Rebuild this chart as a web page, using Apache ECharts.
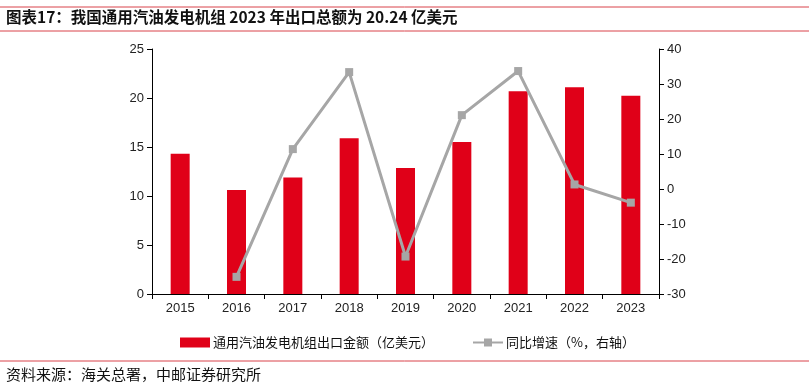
<!DOCTYPE html>
<html><head><meta charset="utf-8">
<script src="https://cdn.jsdelivr.net/npm/echarts@6/dist/echarts.min.js"></script>
<style>html,body{margin:0;padding:0;background:#fff}#c{width:809px;height:388px}</style>
</head><body><div id="c"></div>
<script>
const categories = ['2015','2016','2017','2018','2019','2020','2021','2022','2023'];
const exportValue = [14.3, 10.6, 11.9, 15.9, 12.85, 15.5, 20.7, 21.1, 20.24];
const yoyGrowth = [null, -25.1, 11.4, 33.4, -19.3, 21.1, 33.7, 1.3, -3.9];
const leftTicks = [0, 25, 5];
const rightTicks = [-30, 40, 10];
const titleText = '图表17：我国通用汽油发电机组 2023 年出口总额为 20.24 亿美元';
const sourceText = '资料来源：海关总署，中邮证券研究所';
const barName = '通用汽油发电机组出口金额（亿美元）';
const lineName = '同比增速（%，右轴）';

const chart = echarts.init(document.getElementById('c'), null, {renderer:'canvas'});
const axisTxt = {color:'#222', fontSize:13, fontFamily:'Liberation Sans, Arial, sans-serif'};
chart.setOption({
  animation:false,
  graphic:[
    {type:'line', shape:{x1:0,y1:7,x2:809,y2:7}, style:{stroke:'#d9434b',lineWidth:1}},
    {type:'text', left:6, top:9, style:{text:titleText, font:'bold 15.5px "Noto Sans CJK SC"', fill:'#111'}},
    {type:'line', shape:{x1:0,y1:31,x2:809,y2:31}, style:{stroke:'#d9434b',lineWidth:1}},
    {type:'line', shape:{x1:0,y1:361,x2:809,y2:361}, style:{stroke:'#d9434b',lineWidth:1}},
    {type:'text', left:6, top:367, style:{text:sourceText, font:'15px "Noto Sans CJK SC"', fill:'#111'}}
  ],
  legend:{
    top:331, left:175, itemGap:38, itemWidth:30, itemHeight:10,
    textStyle:{fontSize:13, color:'#111', fontFamily:'"Noto Sans CJK SC"', padding:[0,0,0,-2]},
    data:[{name:barName, icon:'rect'}, {name:lineName}]
  },
  grid:{left:152, right:150, top:49, bottom:94},
  xAxis:{
    type:'category', data:categories,
    axisLine:{lineStyle:{color:'#000'}},
    axisTick:{show:true, alignWithLabel:false, lineStyle:{color:'#000'}},
    axisLabel:axisTxt
  },
  yAxis:[
    {type:'value', min:leftTicks[0], max:leftTicks[1], interval:leftTicks[2],
     axisLine:{show:true, lineStyle:{color:'#000'}}, axisTick:{show:true, lineStyle:{color:'#000'}},
     splitLine:{show:false}, axisLabel:axisTxt},
    {type:'value', min:rightTicks[0], max:rightTicks[1], interval:rightTicks[2],
     axisLine:{show:true, lineStyle:{color:'#000'}}, axisTick:{show:true, lineStyle:{color:'#000'}},
     splitLine:{show:false}, axisLabel:axisTxt}
  ],
  series:[
    {name:barName, type:'bar', data:exportValue, barWidth:19, itemStyle:{color:'#e00018'}},
    {name:lineName, type:'line', yAxisIndex:1, data:yoyGrowth, symbol:'rect', symbolSize:8,
     lineStyle:{color:'#a6a6a6', width:3}, itemStyle:{color:'#a6a6a6'}}
  ]
});
</script></body></html>
